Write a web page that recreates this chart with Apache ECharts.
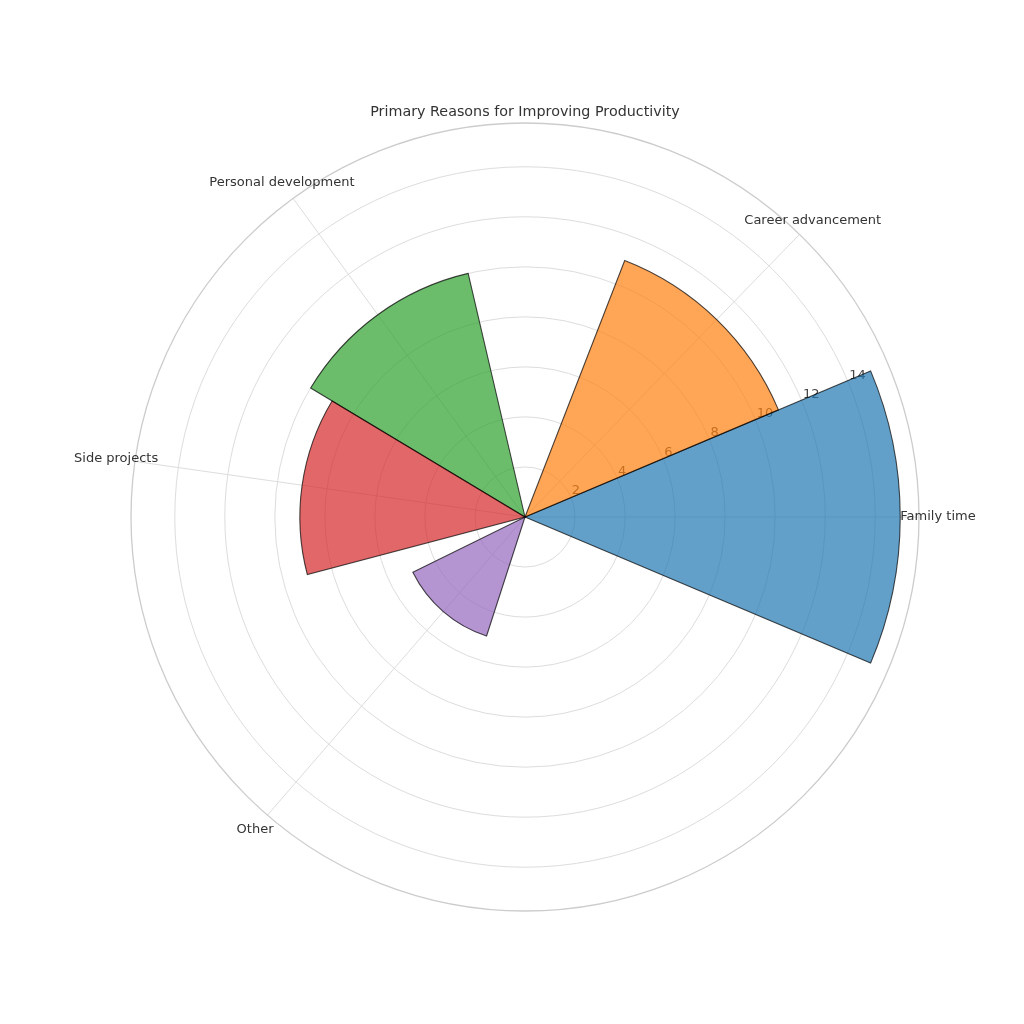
<!DOCTYPE html>
<html><head><meta charset="utf-8">
<script src="https://cdn.jsdelivr.net/npm/echarts@6/dist/echarts.min.js"></script>
<style>html,body{margin:0;padding:0;background:#fff}#c{width:1024px;height:1024px}</style>
</head><body><div id="c"></div>
<script>
const categories = ['Family time', 'Career advancement', 'Personal development', 'Side projects', 'Other'];
const values = [15, 11, 10, 9, 5];
const anglesRad = [0, 0.8, 2.2, 3.0, 4.0];
const barWidthRad = 0.8;
const colors = ['#1f77b4', '#ff7f0e', '#2ca02c', '#d62728', '#9467bd'];
const radiusTicks = [2, 4, 6, 8, 10, 12, 14];
const radiusMax = 15.75;

const toDeg = r => r * 180 / Math.PI;
const anglesDeg = anglesRad.map(toDeg);
const barWidthDeg = toDeg(barWidthRad);
const FONT = 'DejaVu Sans';

function hexToRgba(hex, a) {
  const n = parseInt(hex.slice(1), 16);
  return 'rgba(' + ((n >> 16) & 255) + ',' + ((n >> 8) & 255) + ',' + (n & 255) + ',' + a + ')';
}

const chart = echarts.init(document.getElementById('c'), null, {renderer: 'canvas'});
chart.setOption({
  animation: false,
  backgroundColor: '#ffffff',
  title: {
    text: 'Primary Reasons for Improving Productivity',
    left: 520, top: 100, textAlign: 'center',
    textStyle: {fontSize: 14.3, fontWeight: 'normal', color: '#333333', fontFamily: FONT}
  },
  polar: [
    {center: [525, 517], radius: 394},
    {center: [525, 517], radius: 394}
  ],
  angleAxis: [
    {
      polarIndex: 0, type: 'value', min: 0, max: 360, startAngle: 0, clockwise: false,
      axisLine: {show: true, lineStyle: {color: '#cccccc', width: 1.3}},
      axisTick: {show: false, customValues: anglesDeg},
      axisLabel: {show: false},
      splitLine: {show: true, lineStyle: {color: '#dddddd', width: 1}}
    },
    {
      polarIndex: 1, type: 'value', min: 0, max: 360, startAngle: 22.5, clockwise: false,
      axisLine: {show: false}, axisTick: {show: false}, axisLabel: {show: false}, splitLine: {show: false}
    }
  ],
  radiusAxis: [
    {
      polarIndex: 0, type: 'value', min: 0, max: radiusMax, interval: 2,
      axisLine: {show: false},
      axisTick: {show: false, customValues: radiusTicks},
      axisLabel: {show: false},
      splitLine: {show: true, lineStyle: {color: '#dddddd', width: 1}}
    },
    {
      polarIndex: 1, type: 'value', min: 0, max: radiusMax, interval: 2,
      axisLine: {show: false},
      axisTick: {show: false, customValues: radiusTicks},
      axisLabel: {
        show: true, customValues: radiusTicks, color: '#444444', fontSize: 13, fontFamily: FONT,
        margin: 1, align: 'left', verticalAlign: 'bottom', padding: [0, 0, 0, 1]
      },
      splitLine: {show: false}
    }
  ],
  series: [
    {
      type: 'custom', coordinateSystem: 'polar', polarIndex: 0, z: 2,
      data: values.map((v, i) => [v, anglesDeg[i]]),
      renderItem: function (params, api) {
        const i = params.dataIndex;
        const v = api.value(0), a = api.value(1);
        const c = api.coord([0, a]);
        const p = api.coord([v, a]);
        const r = Math.hypot(p[0] - c[0], p[1] - c[1]);
        const h = barWidthDeg / 2;
        return {
          type: 'sector',
          shape: {
            cx: c[0], cy: c[1], r0: 0, r: r,
            startAngle: -(a + h) * Math.PI / 180,
            endAngle: -(a - h) * Math.PI / 180,
            clockwise: true
          },
          style: {fill: hexToRgba(colors[i], 0.7), stroke: 'rgba(0,0,0,0.7)', lineWidth: 1.1}
        };
      }
    },
    {
      type: 'custom', coordinateSystem: 'polar', polarIndex: 0, z: 5,
      data: categories.map((name, i) => [radiusMax, anglesDeg[i], name]),
      renderItem: function (params, api) {
        const a = api.value(1);
        const c = api.coord([0, a]);
        const p = api.coord([api.value(0), a]);
        const dx = p[0] - c[0], dy = p[1] - c[1];
        const d = Math.hypot(dx, dy);
        const pad = 19;
        return {
          type: 'text',
          x: p[0] + dx / d * pad,
          y: p[1] + dy / d * pad,
          style: {
            text: categories[params.dataIndex],
            fill: '#333333', fontSize: 13, fontFamily: FONT,
            align: 'center', verticalAlign: 'middle'
          }
        };
      }
    }
  ]
});
</script>
</body></html>
